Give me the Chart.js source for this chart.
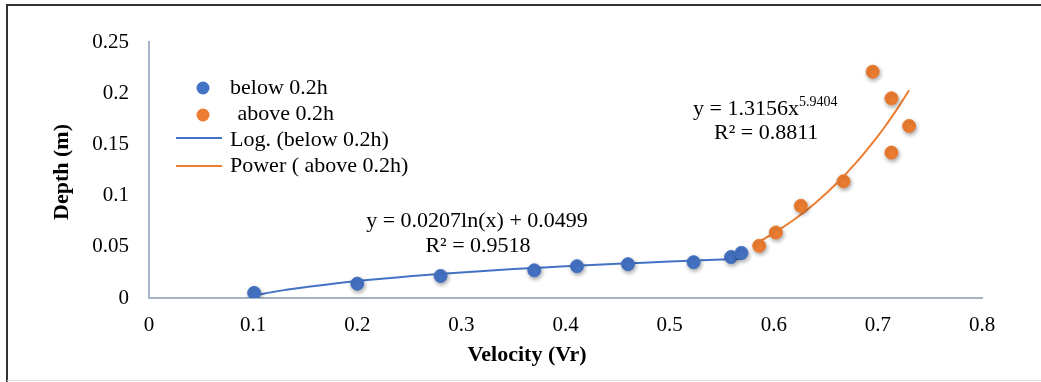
<!DOCTYPE html>
<html>
<head>
<meta charset="utf-8">
<script src="https://cdn.jsdelivr.net/npm/chart.js@4/dist/chart.umd.min.js"></script>
<style>
  html, body { margin: 0; padding: 0; background: #fff; }
  #wrap { width: 1041px; height: 382px; }
</style>
</head>
<body>
<div id="wrap"><canvas id="chart" width="1041" height="382"></canvas></div>
<script>
// measured points (velocity Vr, depth m)
const belowX = [0.101, 0.200, 0.280, 0.370, 0.411, 0.460, 0.523, 0.559, 0.569];
const belowY = [0.005, 0.014, 0.0215, 0.027, 0.031, 0.033, 0.035, 0.040, 0.044];
const aboveX = [0.586, 0.602, 0.626, 0.667, 0.695, 0.713, 0.713, 0.730];
const aboveY = [0.051, 0.064, 0.090, 0.114, 0.221, 0.195, 0.142, 0.168];

// trendlines
const logTrendX = [0.10, 0.11, 0.12, 0.13, 0.15, 0.20, 0.25, 0.30, 0.35, 0.40, 0.45, 0.50, 0.55, 0.57];
const logTrendY = [0.0022, 0.0042, 0.0060, 0.0077, 0.0106, 0.0166, 0.0212, 0.0250, 0.0282, 0.0309, 0.0334, 0.0356, 0.0375, 0.0383];
const powTrendX = [0.586, 0.60, 0.62, 0.64, 0.66, 0.68, 0.70, 0.71, 0.72, 0.73];
const powTrendY = [0.0551, 0.0633, 0.0769, 0.0928, 0.1115, 0.1331, 0.1581, 0.1720, 0.1869, 0.2029];

const xTicks = [0, 0.1, 0.2, 0.3, 0.4, 0.5, 0.6, 0.7, 0.8];
const yTicks = [0, 0.05, 0.1, 0.15, 0.2, 0.25];

const BLUE = '#4472C4';
const ORANGE = '#ED7D31';
const FONT = '"Liberation Serif", "Times New Roman", serif';

const toXY = (xs, ys) => xs.map((x, i) => ({ x: x, y: ys[i] }));

// frame, titles, legend and equations drawn on canvas
const extras = {
  id: 'extras',
  beforeDatasetDraw(chart, args) {
    if (args.index < 2) {
      const ctx = chart.ctx;
      ctx.save();
      ctx.shadowColor = 'rgba(0,0,0,0.35)';
      ctx.shadowBlur = 4;
      ctx.shadowOffsetX = 1;
      ctx.shadowOffsetY = 2;
    }
  },
  afterDatasetDraw(chart, args) {
    if (args.index < 2) chart.ctx.restore();
  },
  afterDraw(chart) {
    const ctx = chart.ctx;
    ctx.save();
    // frame
    ctx.strokeStyle = '#333';
    ctx.lineWidth = 2;
    ctx.beginPath();
    ctx.moveTo(7, 382); ctx.lineTo(7, 5); ctx.lineTo(1041, 5);
    ctx.stroke();
    ctx.strokeStyle = '#ddd';
    ctx.lineWidth = 1;
    ctx.beginPath();
    ctx.moveTo(7, 380.5); ctx.lineTo(1041, 380.5);
    ctx.stroke();

    ctx.fillStyle = '#000';
    ctx.textBaseline = 'middle';

    // axis titles
    ctx.font = 'bold 22px ' + FONT;
    ctx.textAlign = 'center';
    ctx.fillText('Velocity (Vr)', 527, 355);
    ctx.save();
    ctx.translate(62, 172);
    ctx.rotate(-Math.PI / 2);
    ctx.fillText('Depth (m)', 0, 0);
    ctx.restore();

    // legend
    ctx.font = '22px ' + FONT;
    ctx.textAlign = 'left';
    ctx.fillStyle = BLUE;
    ctx.beginPath(); ctx.arc(203, 88, 6.5, 0, Math.PI * 2); ctx.fill();
    ctx.fillStyle = ORANGE;
    ctx.beginPath(); ctx.arc(203, 115, 6.5, 0, Math.PI * 2); ctx.fill();
    ctx.lineWidth = 2;
    ctx.strokeStyle = BLUE;
    ctx.beginPath(); ctx.moveTo(176, 138); ctx.lineTo(222, 138); ctx.stroke();
    ctx.strokeStyle = ORANGE;
    ctx.beginPath(); ctx.moveTo(176, 166); ctx.lineTo(222, 166); ctx.stroke();
    ctx.fillStyle = '#000';
    ctx.fillText('below 0.2h', 230, 88);
    ctx.fillText(' above 0.2h', 232, 114);
    ctx.fillText('Log. (below 0.2h)', 230, 140);
    ctx.fillText('Power ( above 0.2h)', 230, 166);

    // equations
    ctx.textAlign = 'center';
    ctx.fillText('y = 0.0207ln(x) + 0.0499', 477, 221);
    ctx.fillText('R² = 0.9518', 478, 246);
    ctx.textAlign = 'left';
    ctx.fillText('y = 1.3156x', 693, 109);
    const w = ctx.measureText('y = 1.3156x').width;
    ctx.font = '14px ' + FONT;
    ctx.fillText('5.9404', 693 + w, 102);
    ctx.font = '22px ' + FONT;
    ctx.fillText('R² = 0.8811', 714, 133);
    ctx.restore();
  }
};

new Chart(document.getElementById('chart'), {
  type: 'scatter',
  data: {
    datasets: [
      {
        label: 'below 0.2h',
        data: toXY(belowX, belowY),
        backgroundColor: BLUE,
        borderColor: BLUE,
        pointRadius: 6.5,
        pointHoverRadius: 6.5
      },
      {
        label: ' above 0.2h',
        data: toXY(aboveX, aboveY),
        backgroundColor: ORANGE,
        borderColor: ORANGE,
        pointRadius: 6.5,
        pointHoverRadius: 6.5
      },
      {
        label: 'Log. (below 0.2h)',
        type: 'line',
        data: toXY(logTrendX, logTrendY),
        borderColor: BLUE,
        borderWidth: 2,
        pointRadius: 0,
        tension: 0.4,
        fill: false
      },
      {
        label: 'Power ( above 0.2h)',
        type: 'line',
        data: toXY(powTrendX, powTrendY),
        borderColor: ORANGE,
        borderWidth: 2,
        pointRadius: 0,
        tension: 0.4,
        fill: false
      }
    ]
  },
  options: {
    responsive: false,
    animation: false,
    layout: { padding: { top: 42, right: 59, left: 0, bottom: 0 } },
    plugins: {
      legend: { display: false },
      tooltip: { enabled: false }
    },
    scales: {
      x: {
        type: 'linear',
        min: 0,
        max: 0.8,
        afterFit: (s) => { s.height = 84; },
        afterBuildTicks: (s) => { s.ticks = xTicks.map(v => ({ value: v })); },
        grid: { display: false, drawTicks: false },
        border: { color: '#A6B3C6', width: 2 },
        ticks: {
          padding: 15,
          color: '#000',
          font: { family: FONT, size: 21 },
          callback: (v) => String(v)
        }
      },
      y: {
        type: 'linear',
        min: 0,
        max: 0.25,
        afterFit: (s) => { s.width = 149; },
        afterBuildTicks: (s) => { s.ticks = yTicks.map(v => ({ value: v })); },
        grid: { display: false, drawTicks: false },
        border: { color: '#A6B3C6', width: 2 },
        ticks: {
          padding: 20,
          color: '#000',
          font: { family: FONT, size: 21 },
          callback: (v) => String(v)
        }
      }
    }
  },
  plugins: [extras]
});
</script>
</body>
</html>
